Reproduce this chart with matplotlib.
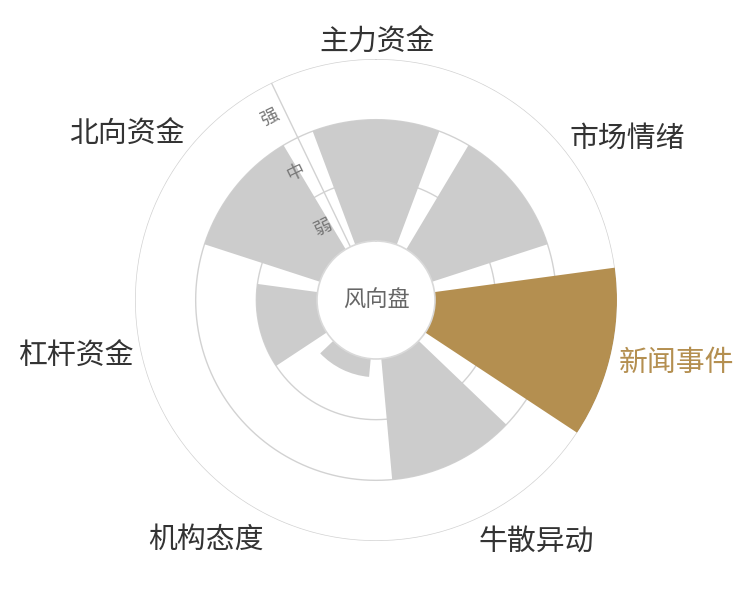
import numpy as np
import matplotlib
matplotlib.use('Agg')
import matplotlib.pyplot as plt

plt.rcParams['font.family'] = ['Noto Sans CJK SC', 'DejaVu Sans']

# categories clockwise from the top
categories = ['主力资金', '市场情绪', '新闻事件', '牛散异动', '机构态度', '杠杆资金', '北向资金']
values = [2, 2, 3, 2, 0.3, 1, 2]
level_labels = ['弱', '中', '强']
highlight = '新闻事件'

GREY = '#cccccc'
GOLD = '#b48f50'
LINE = '#d2d2d2'

# small pixel nudges for the outer labels (right, down)
label_nudge = {
    '主力资金': (1.5, 7), '市场情绪': (-1, 9.5), '新闻事件': (0, 7.5), '牛散异动': (-6, 2.5),
    '机构态度': (-4, 0), '杠杆资金': (1, 1.5), '北向资金': (3, 5.5),
}

n = len(categories)
step = 2 * np.pi / n
theta = np.arange(n) * step

fig = plt.figure(figsize=(7.5, 6), dpi=100)
# centre of the dial at (376, 300) px, outer radius 241 px
ax = fig.add_axes([135 / 750, 59 / 600, 482 / 750, 482 / 600], projection='polar')
ax.set_theta_zero_location('N')
ax.set_theta_direction(-1)
ax.set_ylim(0, 3)
ax.set_rorigin(-0.9725)
ax.grid(False)
ax.set_xticks([])
ax.set_yticks([])
for s in ax.spines.values():
    s.set_visible(False)
# inner spine gets switched back on at draw time, so just restyle it
ax.spines['inner'].set_edgecolor('#d9d9d9')
ax.spines['inner'].set_linewidth(1.2)

# ring lines for 弱 / 中 / 强
t = np.linspace(0, 2 * np.pi, 721)
for r in [1, 2, 3]:
    ax.plot(t, np.full_like(t, r), color=LINE, lw=1, zorder=1)

# radius axis line along the first sector boundary
axis_theta = -step / 2
ax.plot([axis_theta, axis_theta], [0, 3], color=LINE, lw=1, zorder=1)

colors = [GOLD if c == highlight else GREY for c in categories]
ax.bar(theta, values, width=step * 0.8, bottom=0, color=colors, edgecolor='none', zorder=2)

# level labels
rot = np.degrees(step / 2)
for i, lab in enumerate(level_labels):
    ax.annotate(lab, xy=(axis_theta, i + 0.5), xytext=(-11, -5.5), textcoords='offset points',
                ha='center', va='center', rotation=rot, fontsize=13, color='#777777', zorder=5)

# category labels around the dial
r_lab = 3 + 8 / 60.67
for th, cat in zip(theta, categories):
    ang = np.pi / 2 - th
    dx, dy = np.cos(ang), np.sin(ang)
    ha = 'center' if abs(dx) < 0.3 else ('left' if dx > 0 else 'right')
    va = 'center' if abs(dy) < 0.3 else ('bottom' if dy > 0 else 'top')
    nx, ny = label_nudge[cat]
    ax.annotate(cat, xy=(th, r_lab), xytext=(nx * 0.72, -ny * 0.72), textcoords='offset points',
                ha=ha, va=va, fontsize=20.8, annotation_clip=False,
                color=GOLD if cat == highlight else '#333333')

ax.text(0.5, 0.5, '风向盘', transform=ax.transAxes, ha='center', va='center',
        fontsize=16, color='#666666', zorder=5)

fig.savefig('out.png', dpi=100, facecolor='white')
